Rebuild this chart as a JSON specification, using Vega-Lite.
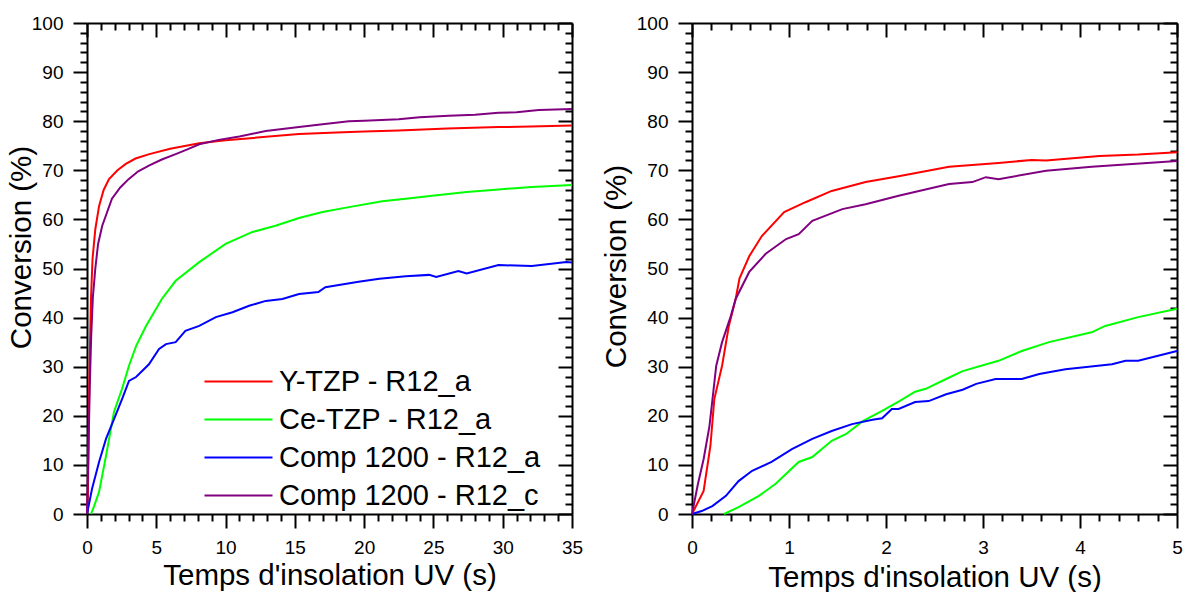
{
  "$schema": "https://vega.github.io/schema/vega-lite/v6.json",
  "background": "white",
  "padding": {"left": 6, "top": 14, "right": 0, "bottom": 0},
  "bounds": "flush",
  "spacing": 120,
  "config": {
    "font": "Liberation Sans",
    "view": {"stroke": null},
    "axis": {
      "domainColor": "black", "domainWidth": 2, "tickColor": "black", "tickWidth": 2,
      "labelColor": "black", "labelFontSize": 19, "labelFont": "Liberation Sans", "labelPadding": 10,
      "titleFont": "Liberation Sans", "titleFontSize": 29.5, "titleFontWeight": "normal", "titleColor": "black",
      "grid": false, "labelFlush": false, "labelOverlap": false
    },
    "line": {"strokeWidth": 2}
  },
  "datasets": {
    "left": [
      {"s": "Y-TZP - R12_a", "t": 0, "v": 0}, {"s": "Y-TZP - R12_a", "t": 0.07, "v": 5}, {"s": "Y-TZP - R12_a", "t": 0.14, "v": 22}, {"s": "Y-TZP - R12_a", "t": 0.22, "v": 35}, {"s": "Y-TZP - R12_a", "t": 0.29, "v": 44}, {"s": "Y-TZP - R12_a", "t": 0.4, "v": 52}, {"s": "Y-TZP - R12_a", "t": 0.6, "v": 58}, {"s": "Y-TZP - R12_a", "t": 0.87, "v": 62.7}, {"s": "Y-TZP - R12_a", "t": 1.2, "v": 66}, {"s": "Y-TZP - R12_a", "t": 1.59, "v": 68.2}, {"s": "Y-TZP - R12_a", "t": 2.2, "v": 70}, {"s": "Y-TZP - R12_a", "t": 2.8, "v": 71.3}, {"s": "Y-TZP - R12_a", "t": 3.5, "v": 72.4}, {"s": "Y-TZP - R12_a", "t": 4.5, "v": 73.3}, {"s": "Y-TZP - R12_a", "t": 6, "v": 74.4}, {"s": "Y-TZP - R12_a", "t": 8.1, "v": 75.5}, {"s": "Y-TZP - R12_a", "t": 10, "v": 76.1}, {"s": "Y-TZP - R12_a", "t": 12, "v": 76.6}, {"s": "Y-TZP - R12_a", "t": 15.3, "v": 77.4}, {"s": "Y-TZP - R12_a", "t": 18, "v": 77.7}, {"s": "Y-TZP - R12_a", "t": 20, "v": 77.9}, {"s": "Y-TZP - R12_a", "t": 22.5, "v": 78.1}, {"s": "Y-TZP - R12_a", "t": 26, "v": 78.5}, {"s": "Y-TZP - R12_a", "t": 29.7, "v": 78.8}, {"s": "Y-TZP - R12_a", "t": 32, "v": 78.9}, {"s": "Y-TZP - R12_a", "t": 35, "v": 79.1},
      {"s": "Ce-TZP - R12_a", "t": 0.29, "v": 0}, {"s": "Ce-TZP - R12_a", "t": 0.5, "v": 1.5}, {"s": "Ce-TZP - R12_a", "t": 0.87, "v": 4.5}, {"s": "Ce-TZP - R12_a", "t": 1.37, "v": 11.8}, {"s": "Ce-TZP - R12_a", "t": 1.95, "v": 20.8}, {"s": "Ce-TZP - R12_a", "t": 2.53, "v": 25.5}, {"s": "Ce-TZP - R12_a", "t": 3.03, "v": 30.2}, {"s": "Ce-TZP - R12_a", "t": 3.54, "v": 34.2}, {"s": "Ce-TZP - R12_a", "t": 4.26, "v": 38.3}, {"s": "Ce-TZP - R12_a", "t": 5.4, "v": 43.8}, {"s": "Ce-TZP - R12_a", "t": 6.4, "v": 47.5}, {"s": "Ce-TZP - R12_a", "t": 8.1, "v": 51.3}, {"s": "Ce-TZP - R12_a", "t": 10, "v": 55}, {"s": "Ce-TZP - R12_a", "t": 11.9, "v": 57.4}, {"s": "Ce-TZP - R12_a", "t": 13.6, "v": 58.7}, {"s": "Ce-TZP - R12_a", "t": 15.3, "v": 60.3}, {"s": "Ce-TZP - R12_a", "t": 17, "v": 61.5}, {"s": "Ce-TZP - R12_a", "t": 18.9, "v": 62.5}, {"s": "Ce-TZP - R12_a", "t": 21.3, "v": 63.7}, {"s": "Ce-TZP - R12_a", "t": 23, "v": 64.2}, {"s": "Ce-TZP - R12_a", "t": 24.9, "v": 64.8}, {"s": "Ce-TZP - R12_a", "t": 27.4, "v": 65.6}, {"s": "Ce-TZP - R12_a", "t": 29.7, "v": 66.1}, {"s": "Ce-TZP - R12_a", "t": 32.1, "v": 66.6}, {"s": "Ce-TZP - R12_a", "t": 35, "v": 67},
      {"s": "Comp 1200 - R12_a", "t": 0, "v": 0}, {"s": "Comp 1200 - R12_a", "t": 0.36, "v": 5.1}, {"s": "Comp 1200 - R12_a", "t": 0.87, "v": 10.6}, {"s": "Comp 1200 - R12_a", "t": 1.37, "v": 15.3}, {"s": "Comp 1200 - R12_a", "t": 1.95, "v": 19.3}, {"s": "Comp 1200 - R12_a", "t": 2.53, "v": 23.4}, {"s": "Comp 1200 - R12_a", "t": 3.03, "v": 27.1}, {"s": "Comp 1200 - R12_a", "t": 3.54, "v": 27.9}, {"s": "Comp 1200 - R12_a", "t": 4.47, "v": 30.5}, {"s": "Comp 1200 - R12_a", "t": 5.2, "v": 33.6}, {"s": "Comp 1200 - R12_a", "t": 5.7, "v": 34.6}, {"s": "Comp 1200 - R12_a", "t": 6.4, "v": 35}, {"s": "Comp 1200 - R12_a", "t": 7.1, "v": 37.3}, {"s": "Comp 1200 - R12_a", "t": 8.1, "v": 38.3}, {"s": "Comp 1200 - R12_a", "t": 9.3, "v": 40.1}, {"s": "Comp 1200 - R12_a", "t": 10.5, "v": 41.1}, {"s": "Comp 1200 - R12_a", "t": 11.7, "v": 42.4}, {"s": "Comp 1200 - R12_a", "t": 12.9, "v": 43.4}, {"s": "Comp 1200 - R12_a", "t": 14.1, "v": 43.8}, {"s": "Comp 1200 - R12_a", "t": 15.3, "v": 44.8}, {"s": "Comp 1200 - R12_a", "t": 16.7, "v": 45.2}, {"s": "Comp 1200 - R12_a", "t": 17.2, "v": 46.2}, {"s": "Comp 1200 - R12_a", "t": 19.6, "v": 47.3}, {"s": "Comp 1200 - R12_a", "t": 21.1, "v": 47.9}, {"s": "Comp 1200 - R12_a", "t": 23, "v": 48.4}, {"s": "Comp 1200 - R12_a", "t": 24.7, "v": 48.7}, {"s": "Comp 1200 - R12_a", "t": 25.2, "v": 48.3}, {"s": "Comp 1200 - R12_a", "t": 26.8, "v": 49.5}, {"s": "Comp 1200 - R12_a", "t": 27.4, "v": 49}, {"s": "Comp 1200 - R12_a", "t": 29.7, "v": 50.7}, {"s": "Comp 1200 - R12_a", "t": 32.1, "v": 50.5}, {"s": "Comp 1200 - R12_a", "t": 34.6, "v": 51.3}, {"s": "Comp 1200 - R12_a", "t": 35, "v": 51.2},
      {"s": "Comp 1200 - R12_c", "t": 0, "v": 0}, {"s": "Comp 1200 - R12_c", "t": 0.1, "v": 12}, {"s": "Comp 1200 - R12_c", "t": 0.2, "v": 26}, {"s": "Comp 1200 - R12_c", "t": 0.3, "v": 36}, {"s": "Comp 1200 - R12_c", "t": 0.42, "v": 44}, {"s": "Comp 1200 - R12_c", "t": 0.6, "v": 50}, {"s": "Comp 1200 - R12_c", "t": 0.8, "v": 55}, {"s": "Comp 1200 - R12_c", "t": 1.1, "v": 58.7}, {"s": "Comp 1200 - R12_c", "t": 1.8, "v": 64.2}, {"s": "Comp 1200 - R12_c", "t": 2.4, "v": 66.5}, {"s": "Comp 1200 - R12_c", "t": 3, "v": 68.2}, {"s": "Comp 1200 - R12_c", "t": 3.7, "v": 69.8}, {"s": "Comp 1200 - R12_c", "t": 4.5, "v": 71}, {"s": "Comp 1200 - R12_c", "t": 5.4, "v": 72.2}, {"s": "Comp 1200 - R12_c", "t": 6.4, "v": 73.3}, {"s": "Comp 1200 - R12_c", "t": 7.2, "v": 74.2}, {"s": "Comp 1200 - R12_c", "t": 8.1, "v": 75.3}, {"s": "Comp 1200 - R12_c", "t": 9.5, "v": 76.2}, {"s": "Comp 1200 - R12_c", "t": 11, "v": 76.9}, {"s": "Comp 1200 - R12_c", "t": 12.9, "v": 78}, {"s": "Comp 1200 - R12_c", "t": 15.3, "v": 78.8}, {"s": "Comp 1200 - R12_c", "t": 17, "v": 79.4}, {"s": "Comp 1200 - R12_c", "t": 18.9, "v": 80}, {"s": "Comp 1200 - R12_c", "t": 20, "v": 80.1}, {"s": "Comp 1200 - R12_c", "t": 22.5, "v": 80.4}, {"s": "Comp 1200 - R12_c", "t": 24, "v": 80.8}, {"s": "Comp 1200 - R12_c", "t": 26.1, "v": 81.1}, {"s": "Comp 1200 - R12_c", "t": 28, "v": 81.3}, {"s": "Comp 1200 - R12_c", "t": 29.7, "v": 81.7}, {"s": "Comp 1200 - R12_c", "t": 31, "v": 81.8}, {"s": "Comp 1200 - R12_c", "t": 32.6, "v": 82.3}, {"s": "Comp 1200 - R12_c", "t": 35, "v": 82.5}
    ],
    "right": [
      {"s": "Y-TZP - R12_a", "t": 0, "v": 0}, {"s": "Y-TZP - R12_a", "t": 0.12, "v": 4.7}, {"s": "Y-TZP - R12_a", "t": 0.19, "v": 13.9}, {"s": "Y-TZP - R12_a", "t": 0.23, "v": 23.4}, {"s": "Y-TZP - R12_a", "t": 0.31, "v": 30.2}, {"s": "Y-TZP - R12_a", "t": 0.38, "v": 38.3}, {"s": "Y-TZP - R12_a", "t": 0.45, "v": 43.8}, {"s": "Y-TZP - R12_a", "t": 0.49, "v": 48}, {"s": "Y-TZP - R12_a", "t": 0.59, "v": 52.5}, {"s": "Y-TZP - R12_a", "t": 0.72, "v": 56.6}, {"s": "Y-TZP - R12_a", "t": 0.95, "v": 61.5}, {"s": "Y-TZP - R12_a", "t": 1.17, "v": 63.5}, {"s": "Y-TZP - R12_a", "t": 1.44, "v": 65.8}, {"s": "Y-TZP - R12_a", "t": 1.79, "v": 67.6}, {"s": "Y-TZP - R12_a", "t": 2.13, "v": 68.8}, {"s": "Y-TZP - R12_a", "t": 2.65, "v": 70.7}, {"s": "Y-TZP - R12_a", "t": 3.16, "v": 71.5}, {"s": "Y-TZP - R12_a", "t": 3.5, "v": 72.1}, {"s": "Y-TZP - R12_a", "t": 3.65, "v": 72}, {"s": "Y-TZP - R12_a", "t": 4.2, "v": 72.9}, {"s": "Y-TZP - R12_a", "t": 4.6, "v": 73.2}, {"s": "Y-TZP - R12_a", "t": 5, "v": 73.7},
      {"s": "Ce-TZP - R12_a", "t": 0.33, "v": 0}, {"s": "Ce-TZP - R12_a", "t": 0.48, "v": 1.4}, {"s": "Ce-TZP - R12_a", "t": 0.69, "v": 3.7}, {"s": "Ce-TZP - R12_a", "t": 0.86, "v": 6.1}, {"s": "Ce-TZP - R12_a", "t": 1.1, "v": 10.6}, {"s": "Ce-TZP - R12_a", "t": 1.24, "v": 11.6}, {"s": "Ce-TZP - R12_a", "t": 1.44, "v": 14.9}, {"s": "Ce-TZP - R12_a", "t": 1.59, "v": 16.3}, {"s": "Ce-TZP - R12_a", "t": 1.76, "v": 18.9}, {"s": "Ce-TZP - R12_a", "t": 1.96, "v": 21}, {"s": "Ce-TZP - R12_a", "t": 2.13, "v": 22.9}, {"s": "Ce-TZP - R12_a", "t": 2.3, "v": 24.9}, {"s": "Ce-TZP - R12_a", "t": 2.41, "v": 25.5}, {"s": "Ce-TZP - R12_a", "t": 2.62, "v": 27.5}, {"s": "Ce-TZP - R12_a", "t": 2.79, "v": 29.1}, {"s": "Ce-TZP - R12_a", "t": 3.16, "v": 31.2}, {"s": "Ce-TZP - R12_a", "t": 3.4, "v": 33.2}, {"s": "Ce-TZP - R12_a", "t": 3.68, "v": 35}, {"s": "Ce-TZP - R12_a", "t": 4.12, "v": 37}, {"s": "Ce-TZP - R12_a", "t": 4.26, "v": 38.3}, {"s": "Ce-TZP - R12_a", "t": 4.6, "v": 40.1}, {"s": "Ce-TZP - R12_a", "t": 5, "v": 41.8},
      {"s": "Comp 1200 - R12_a", "t": 0, "v": 0}, {"s": "Comp 1200 - R12_a", "t": 0.1, "v": 0.6}, {"s": "Comp 1200 - R12_a", "t": 0.21, "v": 1.6}, {"s": "Comp 1200 - R12_a", "t": 0.35, "v": 3.7}, {"s": "Comp 1200 - R12_a", "t": 0.48, "v": 6.7}, {"s": "Comp 1200 - R12_a", "t": 0.62, "v": 8.8}, {"s": "Comp 1200 - R12_a", "t": 0.82, "v": 10.6}, {"s": "Comp 1200 - R12_a", "t": 1.03, "v": 13.2}, {"s": "Comp 1200 - R12_a", "t": 1.24, "v": 15.3}, {"s": "Comp 1200 - R12_a", "t": 1.44, "v": 16.9}, {"s": "Comp 1200 - R12_a", "t": 1.65, "v": 18.3}, {"s": "Comp 1200 - R12_a", "t": 1.86, "v": 19.2}, {"s": "Comp 1200 - R12_a", "t": 1.96, "v": 19.5}, {"s": "Comp 1200 - R12_a", "t": 2.06, "v": 21.4}, {"s": "Comp 1200 - R12_a", "t": 2.13, "v": 21.4}, {"s": "Comp 1200 - R12_a", "t": 2.3, "v": 22.8}, {"s": "Comp 1200 - R12_a", "t": 2.44, "v": 23}, {"s": "Comp 1200 - R12_a", "t": 2.62, "v": 24.4}, {"s": "Comp 1200 - R12_a", "t": 2.79, "v": 25.3}, {"s": "Comp 1200 - R12_a", "t": 2.93, "v": 26.5}, {"s": "Comp 1200 - R12_a", "t": 3.13, "v": 27.5}, {"s": "Comp 1200 - R12_a", "t": 3.4, "v": 27.5}, {"s": "Comp 1200 - R12_a", "t": 3.58, "v": 28.5}, {"s": "Comp 1200 - R12_a", "t": 3.85, "v": 29.5}, {"s": "Comp 1200 - R12_a", "t": 4.09, "v": 30}, {"s": "Comp 1200 - R12_a", "t": 4.33, "v": 30.5}, {"s": "Comp 1200 - R12_a", "t": 4.47, "v": 31.2}, {"s": "Comp 1200 - R12_a", "t": 4.6, "v": 31.2}, {"s": "Comp 1200 - R12_a", "t": 5, "v": 33.2},
      {"s": "Comp 1200 - R12_c", "t": 0, "v": 0}, {"s": "Comp 1200 - R12_c", "t": 0.06, "v": 6}, {"s": "Comp 1200 - R12_c", "t": 0.12, "v": 11.2}, {"s": "Comp 1200 - R12_c", "t": 0.18, "v": 17.9}, {"s": "Comp 1200 - R12_c", "t": 0.25, "v": 30.2}, {"s": "Comp 1200 - R12_c", "t": 0.31, "v": 35}, {"s": "Comp 1200 - R12_c", "t": 0.4, "v": 40.3}, {"s": "Comp 1200 - R12_c", "t": 0.45, "v": 43.8}, {"s": "Comp 1200 - R12_c", "t": 0.59, "v": 49.3}, {"s": "Comp 1200 - R12_c", "t": 0.76, "v": 53}, {"s": "Comp 1200 - R12_c", "t": 0.97, "v": 56}, {"s": "Comp 1200 - R12_c", "t": 1.1, "v": 57}, {"s": "Comp 1200 - R12_c", "t": 1.24, "v": 59.7}, {"s": "Comp 1200 - R12_c", "t": 1.55, "v": 62.1}, {"s": "Comp 1200 - R12_c", "t": 1.79, "v": 63.1}, {"s": "Comp 1200 - R12_c", "t": 2.13, "v": 64.8}, {"s": "Comp 1200 - R12_c", "t": 2.65, "v": 67.2}, {"s": "Comp 1200 - R12_c", "t": 2.89, "v": 67.6}, {"s": "Comp 1200 - R12_c", "t": 3.03, "v": 68.6}, {"s": "Comp 1200 - R12_c", "t": 3.16, "v": 68.2}, {"s": "Comp 1200 - R12_c", "t": 3.65, "v": 69.9}, {"s": "Comp 1200 - R12_c", "t": 4.12, "v": 70.7}, {"s": "Comp 1200 - R12_c", "t": 5, "v": 71.9}
    ]
  },
  "hconcat": [
    {
      "width": 485, "height": 491,
      "data": {"name": "left"},
      "resolve": {"axis": {"x": "independent", "y": "independent"}},
      "layer": [
        {
          "mark": {"type": "line", "strokeWidth": 2},
          "encoding": {
            "x": {"field": "t", "type": "quantitative", "scale": {"domain": [0, 35], "nice": false, "zero": false},
              "axis": {"orient": "bottom", "title": "Temps d'insolation UV (s)", "titleY": 70, "titleBaseline": "alphabetic",
                "values": [0,5,10,15,20,25,30,35], "tickSize": 14}},
            "y": {"field": "v", "type": "quantitative", "scale": {"domain": [0, 100], "nice": false},
              "axis": {"orient": "left", "title": "Conversion (%)", "titleX": -57, "titleY": 224, "titleBaseline": "alphabetic", "titleAlign": "center", "titleAngle": -90,
                "values": [0,10,20,30,40,50,60,70,80,90,100], "tickSize": 14}},
            "color": {"field": "s", "type": "nominal",
              "scale": {"domain": ["Y-TZP - R12_a", "Ce-TZP - R12_a", "Comp 1200 - R12_a", "Comp 1200 - R12_c"], "range": ["#ff0000", "#00ff00", "#0000ff", "#800080"]},
              "legend": {"orient": "none", "legendX": 137, "legendY": 344, "padding": 0, "title": null, "symbolType": "M-5,0H5", "symbolSize": 185, "symbolStrokeWidth": 2, "symbolFillColor": "transparent",
                "labelFontSize": 29, "labelFont": "Liberation Sans", "labelColor": "black", "labelOffset": 26, "rowPadding": 8, "labelLimit": 400}}
          }
        },
        {
          "mark": {"type": "line", "opacity": 0},
          "encoding": {
            "x": {"field": "t", "type": "quantitative", "scale": {"domain": [0, 35], "nice": false, "zero": false},
              "axis": {"orient": "bottom", "title": null, "labels": false, "domain": false, "tickSize": 7,
                "values": [1,2,3,4,6,7,8,9,11,12,13,14,16,17,18,19,21,22,23,24,26,27,28,29,31,32,33,34]}},
            "y": {"field": "v", "type": "quantitative", "scale": {"domain": [0, 100], "nice": false},
              "axis": {"orient": "left", "title": null, "labels": false, "domain": false, "tickSize": 7,
                "values": [2,4,6,8,12,14,16,18,22,24,26,28,32,34,36,38,42,44,46,48,52,54,56,58,62,64,66,68,72,74,76,78,82,84,86,88,92,94,96,98]}}
          }
        },
        {
          "mark": {"type": "line", "opacity": 0},
          "encoding": {
            "x": {"field": "t", "type": "quantitative", "scale": {"domain": [0, 35], "nice": false, "zero": false},
              "axis": {"orient": "top", "title": null, "labels": false, "tickSize": -14, "values": [0,5,10,15,20,25,30,35]}},
            "y": {"field": "v", "type": "quantitative", "scale": {"domain": [0, 100], "nice": false},
              "axis": {"orient": "right", "title": null, "labels": false, "tickSize": -14, "values": [0,10,20,30,40,50,60,70,80,90,100]}}
          }
        },
        {
          "mark": {"type": "line", "opacity": 0},
          "encoding": {
            "x": {"field": "t", "type": "quantitative", "scale": {"domain": [0, 35], "nice": false, "zero": false},
              "axis": {"orient": "top", "title": null, "labels": false, "domain": false, "tickSize": -7,
                "values": [1,2,3,4,6,7,8,9,11,12,13,14,16,17,18,19,21,22,23,24,26,27,28,29,31,32,33,34]}},
            "y": {"field": "v", "type": "quantitative", "scale": {"domain": [0, 100], "nice": false},
              "axis": {"orient": "right", "title": null, "labels": false, "domain": false, "tickSize": -7,
                "values": [2,4,6,8,12,14,16,18,22,24,26,28,32,34,36,38,42,44,46,48,52,54,56,58,62,64,66,68,72,74,76,78,82,84,86,88,92,94,96,98]}}
          }
        }
      ]
    },
    {
      "width": 485, "height": 491,
      "data": {"name": "right"},
      "resolve": {"axis": {"x": "independent", "y": "independent"}},
      "layer": [
        {
          "mark": {"type": "line", "strokeWidth": 2},
          "encoding": {
            "x": {"field": "t", "type": "quantitative", "scale": {"domain": [0, 5], "nice": false, "zero": false},
              "axis": {"orient": "bottom", "title": "Temps d'insolation UV (s)", "titleY": 72, "titleBaseline": "alphabetic",
                "values": [0,1,2,3,4,5], "tickSize": 14}},
            "y": {"field": "v", "type": "quantitative", "scale": {"domain": [0, 100], "nice": false},
              "axis": {"orient": "left", "title": "Conversion (%)", "titleX": -67, "titleY": 243, "titleBaseline": "alphabetic", "titleAlign": "center", "titleAngle": -90,
                "values": [0,10,20,30,40,50,60,70,80,90,100], "tickSize": 14}},
            "color": {"field": "s", "type": "nominal",
              "scale": {"domain": ["Y-TZP - R12_a", "Ce-TZP - R12_a", "Comp 1200 - R12_a", "Comp 1200 - R12_c"], "range": ["#ff0000", "#00ff00", "#0000ff", "#800080"]},
              "legend": null}
          }
        },
        {
          "mark": {"type": "line", "opacity": 0},
          "encoding": {
            "x": {"field": "t", "type": "quantitative", "scale": {"domain": [0, 5], "nice": false, "zero": false},
              "axis": {"orient": "bottom", "title": null, "labels": false, "domain": false, "tickSize": 7,
                "values": [0.2,0.4,0.6,0.8,1.2,1.4,1.6,1.8,2.2,2.4,2.6,2.8,3.2,3.4,3.6,3.8,4.2,4.4,4.6,4.8]}},
            "y": {"field": "v", "type": "quantitative", "scale": {"domain": [0, 100], "nice": false},
              "axis": {"orient": "left", "title": null, "labels": false, "domain": false, "tickSize": 7,
                "values": [2,4,6,8,12,14,16,18,22,24,26,28,32,34,36,38,42,44,46,48,52,54,56,58,62,64,66,68,72,74,76,78,82,84,86,88,92,94,96,98]}}
          }
        },
        {
          "mark": {"type": "line", "opacity": 0},
          "encoding": {
            "x": {"field": "t", "type": "quantitative", "scale": {"domain": [0, 5], "nice": false, "zero": false},
              "axis": {"orient": "top", "title": null, "labels": false, "tickSize": -14, "values": [0,1,2,3,4,5]}},
            "y": {"field": "v", "type": "quantitative", "scale": {"domain": [0, 100], "nice": false},
              "axis": {"orient": "right", "title": null, "labels": false, "tickSize": -14, "values": [0,10,20,30,40,50,60,70,80,90,100]}}
          }
        },
        {
          "mark": {"type": "line", "opacity": 0},
          "encoding": {
            "x": {"field": "t", "type": "quantitative", "scale": {"domain": [0, 5], "nice": false, "zero": false},
              "axis": {"orient": "top", "title": null, "labels": false, "domain": false, "tickSize": -7,
                "values": [0.2,0.4,0.6,0.8,1.2,1.4,1.6,1.8,2.2,2.4,2.6,2.8,3.2,3.4,3.6,3.8,4.2,4.4,4.6,4.8]}},
            "y": {"field": "v", "type": "quantitative", "scale": {"domain": [0, 100], "nice": false},
              "axis": {"orient": "right", "title": null, "labels": false, "domain": false, "tickSize": -7,
                "values": [2,4,6,8,12,14,16,18,22,24,26,28,32,34,36,38,42,44,46,48,52,54,56,58,62,64,66,68,72,74,76,78,82,84,86,88,92,94,96,98]}}
          }
        }
      ]
    }
  ]
}
